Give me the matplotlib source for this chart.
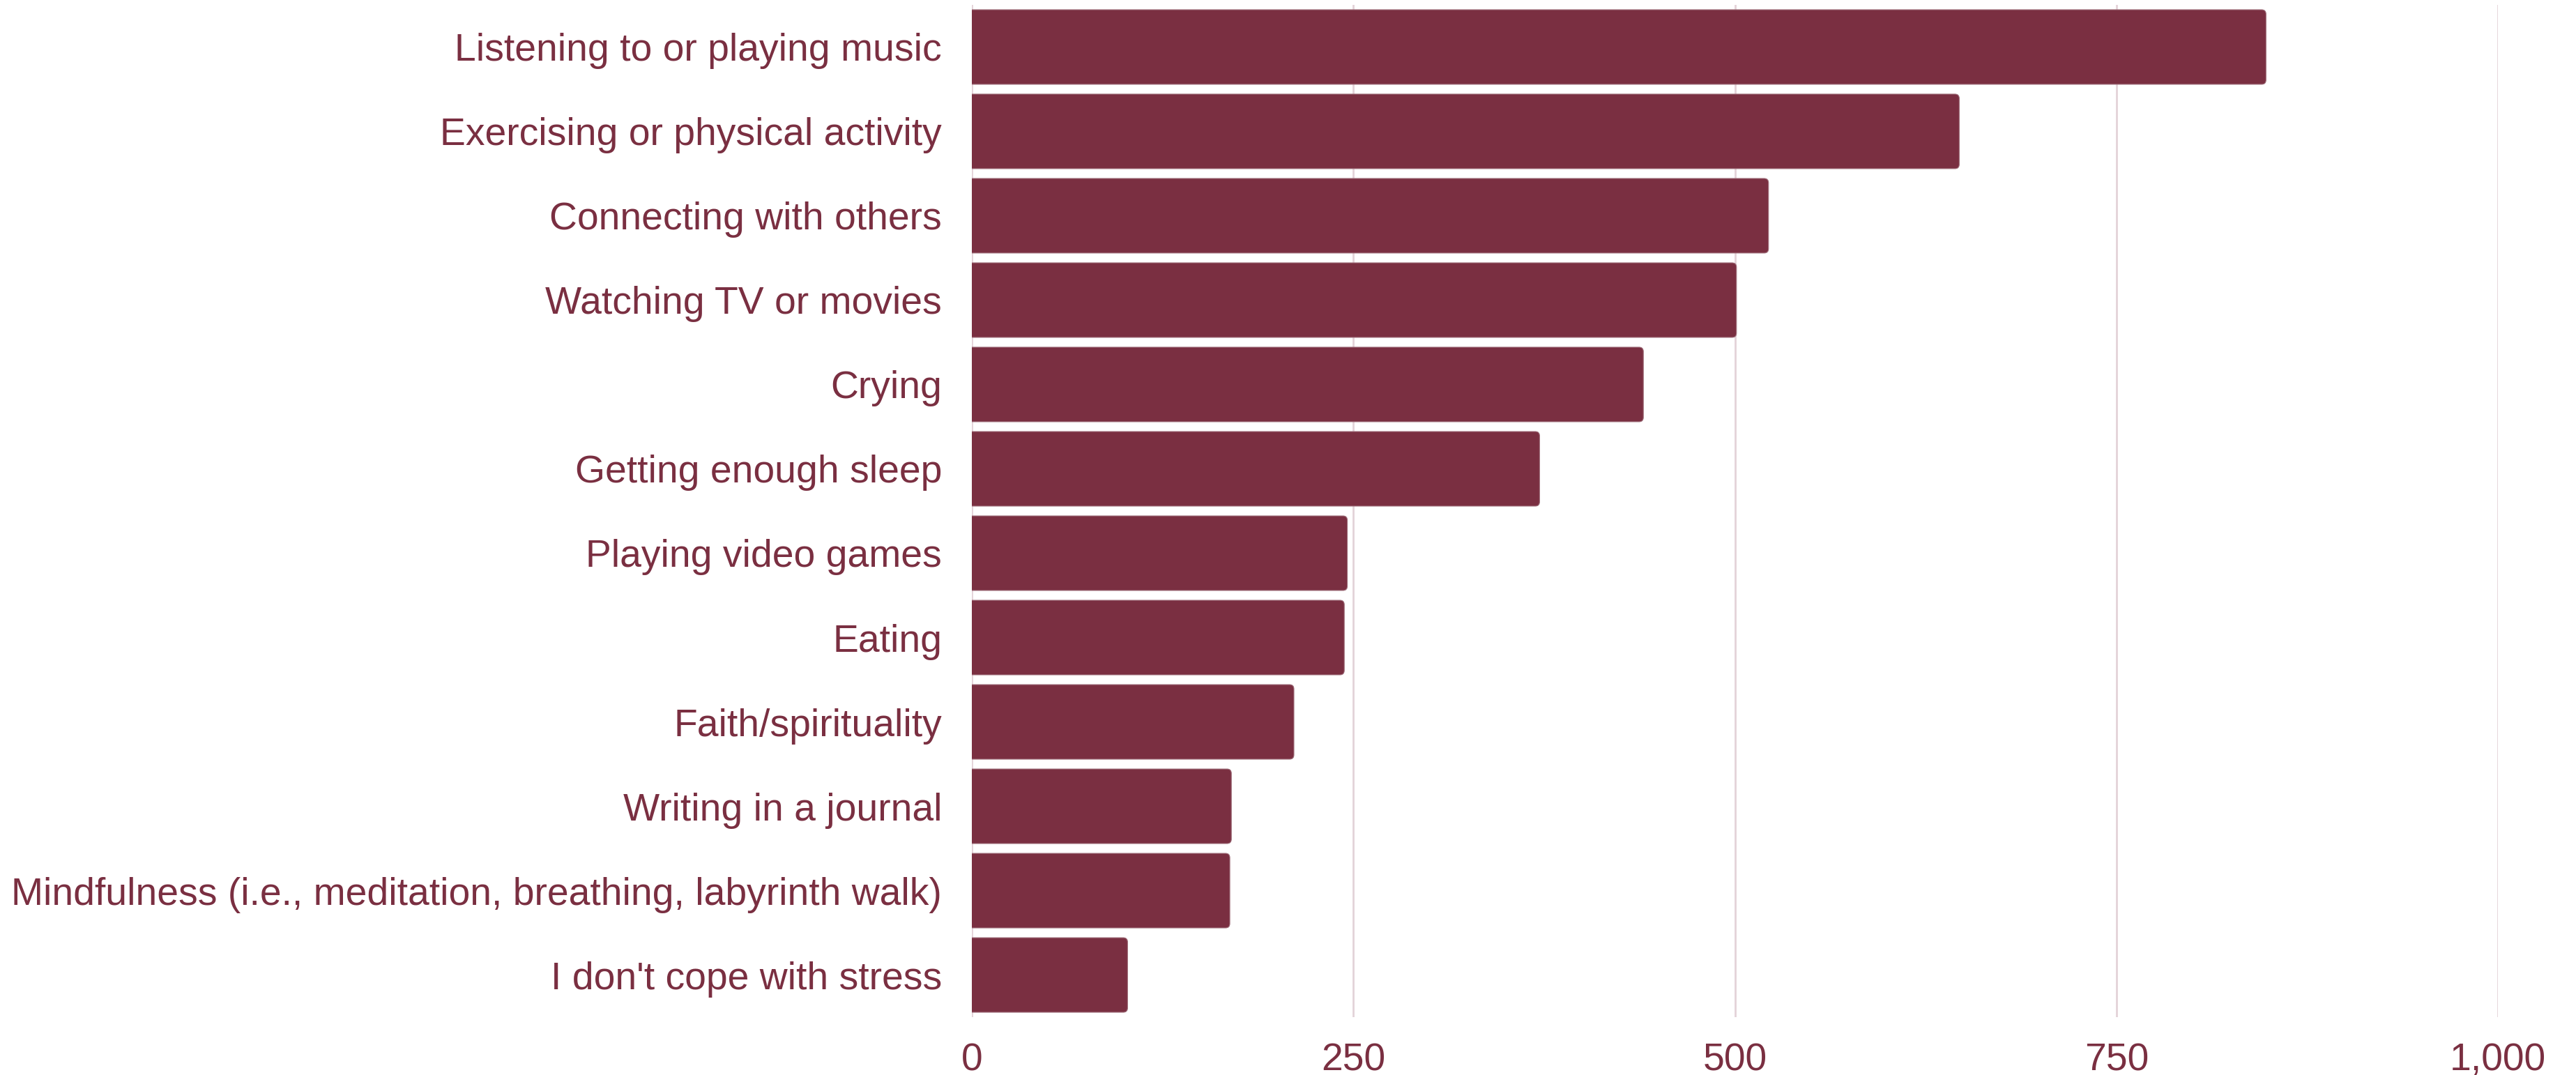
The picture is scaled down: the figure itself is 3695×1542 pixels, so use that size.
import matplotlib
matplotlib.use("Agg")
import matplotlib.pyplot as plt
from matplotlib.patches import FancyBboxPatch
from matplotlib.ticker import FuncFormatter

categories = [
    "Listening to or playing music",
    "Exercising or physical activity",
    "Connecting with others",
    "Watching TV or movies",
    "Crying",
    "Getting enough sleep",
    "Playing video games",
    "Eating",
    "Faith/spirituality",
    "Writing in a journal",
    "Mindfulness (i.e., meditation, breathing, labyrinth walk)",
    "I don't cope with stress",
]
counts = [848, 647, 522, 501, 440, 372, 246, 244, 211, 170, 169, 102]
x_ticks = [0, 250, 500, 750, 1000]

BAR = "#7a2f41"
TEXT = "#7a2f41"
GRID = "#e3d3d8"

plt.rcParams["font.family"] = ["Liberation Sans", "DejaVu Sans"]

fig = plt.figure(figsize=(36.95, 15.42), dpi=100)
ax = fig.add_axes([0.3773, 0.0538, 0.5924, 0.9417])

n = len(categories)
ypos = list(range(n))
height = 0.884

# rounded right ends; left side starts below zero so the clip keeps it square
for y, v in zip(ypos, counts):
    patch = FancyBboxPatch((-20, y - height / 2), v + 20, height,
                           boxstyle="round,pad=0,rounding_size=2.8",
                           mutation_aspect=0.0185,
                           facecolor=BAR, edgecolor="#a0707c", linewidth=0.8,
                           zorder=3)
    ax.add_patch(patch)

ax.set_xlim(0, 1000)
ax.set_ylim(n - 0.5, -0.5)
ax.set_yticks(ypos)
ax.set_yticklabels(categories)
ax.set_xticks(x_ticks)
ax.xaxis.set_major_formatter(FuncFormatter(lambda v, p: f"{int(v):,}"))

ax.tick_params(axis="y", length=0, pad=31, labelsize=39.8, labelcolor=TEXT)
ax.tick_params(axis="x", length=0, pad=26, labelsize=39.8, labelcolor=TEXT)

ax.grid(axis="x", color=GRID, linewidth=2, zorder=0)
ax.set_axisbelow(True)
for s in ax.spines.values():
    s.set_visible(False)

fig.savefig("out.png", dpi=100, facecolor="white")
